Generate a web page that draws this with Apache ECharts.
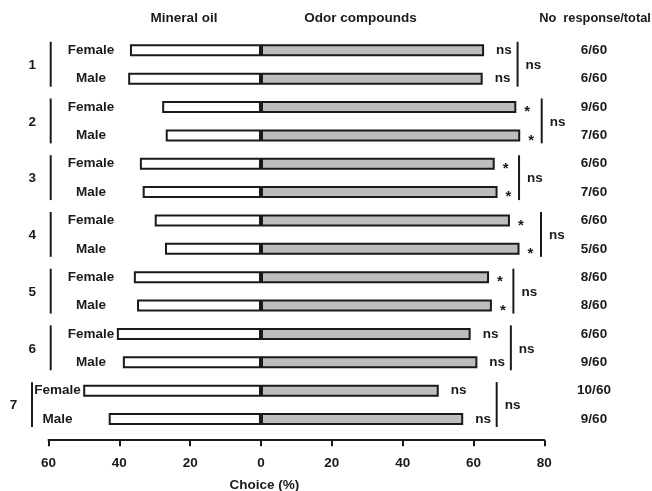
<!DOCTYPE html>
<html>
<head>
<meta charset="utf-8">
<script src="https://cdn.jsdelivr.net/npm/echarts@6/dist/echarts.min.js"></script>
<style>
  html, body { margin: 0; padding: 0; background: #ffffff; }
  #chart { width: 652px; height: 491px; }
</style>
</head>
<body>
<div id="chart"></div>
<script>
// Two-choice assay: share of insects choosing mineral oil vs. odor compounds
const groups = ['1', '2', '3', '4', '5', '6', '7'];
const sexes = ['Female', 'Male', 'Female', 'Male', 'Female', 'Male', 'Female', 'Male',
               'Female', 'Male', 'Female', 'Male', 'Female', 'Male'];
const mineralOil = [37.0, 37.5, 27.9, 26.9, 34.2, 33.4, 30.0, 27.1, 35.9, 35.0, 40.7, 39.0, 50.2, 43.0];
const odorCompounds = [63.0, 62.6, 72.1, 73.2, 66.0, 66.8, 70.3, 73.0, 64.4, 65.2, 59.2, 61.1, 50.2, 57.1];
const barSignificance = ['ns', 'ns', '*', '*', '*', '*', '*', '*', '*', '*', 'ns', 'ns', 'ns', 'ns'];
const groupSignificance = ['ns', 'ns', 'ns', 'ns', 'ns', 'ns', 'ns'];
const noResponse = ['6/60', '6/60', '9/60', '7/60', '6/60', '7/60', '6/60', '5/60',
                    '8/60', '8/60', '6/60', '9/60', '10/60', '9/60'];

const INK = '#1a1a1a';
const FONT = '"Liberation Sans", Arial, Helvetica, sans-serif';
const FS = 13.5;
const fontCss = 'bold ' + FS + 'px ' + FONT;

// a group whose mineral-oil bar runs long pushes its labels further left
const crowdedGroup = groups.map((g, i) => Math.max(mineralOil[2 * i], mineralOil[2 * i + 1]) > 45);

const chart = echarts.init(document.getElementById('chart'), null, { renderer: 'canvas' });

const odorData = odorCompounds.map((v, i) => ({
  value: v,
  label: barSignificance[i] === '*'
    ? { distance: 8, offset: [0, 5], fontSize: 15 }
    : { distance: 12 }
}));

const groupData = groups.map((g, i) => [0, 2 * i, 2 * i + 1]);

function renderGroup(params, api) {
  const i = params.dataIndex;
  const a = api.value(1), b = api.value(2);
  const yTop = api.coord([0, a])[1] - 8.5;
  const yBot = api.coord([0, b])[1] + 8;
  const yMid = (yTop + yBot) / 2;
  const gridLeft = api.coord([-60, a])[0];

  // left bracket and group number
  const lx = gridLeft + (crowdedGroup[i] ? -16.5 : 2.2);
  const nx = lx - 18.5;

  // right bracket sits just past the farther significance label
  const ends = [a, b].map(k => api.coord([odorCompounds[k], k])[0] + (barSignificance[k] === '*' ? 21.5 : 33.5));
  const rx = Math.max(ends[0], ends[1]);

  return {
    type: 'group',
    children: [
      { type: 'line', shape: { x1: lx, y1: yTop, x2: lx, y2: yBot }, style: { stroke: INK, lineWidth: 2 } },
      { type: 'text', x: nx, y: yMid + 1, style: { text: groups[i], font: fontCss, fill: INK, align: 'center', verticalAlign: 'middle' } },
      { type: 'line', shape: { x1: rx, y1: yTop, x2: rx, y2: yBot }, style: { stroke: INK, lineWidth: 2 } },
      { type: 'text', x: rx + 8, y: yMid + 1, style: { text: groupSignificance[i], font: fontCss, fill: INK, align: 'left', verticalAlign: 'middle' } }
    ]
  };
}

const option = {
  animation: false,
  textStyle: { fontFamily: FONT },
  grid: {
    left: 48.5, right: 107.7, top: 36.1, bottom: 57.8,
    containLabel: false,
    outerBoundsMode: 'none'
  },
  xAxis: {
    type: 'value',
    min: -60,
    max: 80,
    interval: 20,
    offset: 7,
    axisLine: { show: true, lineStyle: { color: INK, width: 2 } },
    axisTick: { show: true, inside: false, length: 6, lineStyle: { color: INK, width: 2 } },
    splitLine: { show: false },
    axisLabel: {
      formatter: v => String(Math.abs(v)),
      color: INK, fontWeight: 'bold', fontSize: FS, margin: 16
    },
    name: 'Choice (%)',
    nameLocation: 'middle',
    nameGap: 38,
    nameTextStyle: { color: INK, fontWeight: 'bold', fontSize: FS, padding: [0, 64, 0, 0] }
  },
  yAxis: [
    {
      type: 'category',
      inverse: true,
      data: sexes,
      axisLine: { show: false },
      axisTick: { show: false },
      splitLine: { show: false },
      axisLabel: {
        align: 'center',
        margin: -42.5,
        color: INK, fontWeight: 'bold', fontSize: FS,
        formatter: (v, idx) => crowdedGroup[Math.floor(idx / 2)] ? '{far|' + v + '}' : v,
        rich: { far: { padding: [0, 67, 0, 0], color: INK, fontWeight: 'bold', fontSize: FS } }
      }
    },
    {
      type: 'category',
      inverse: true,
      position: 'right',
      data: noResponse,
      axisLine: { show: false },
      axisTick: { show: false },
      splitLine: { show: false },
      axisLabel: { align: 'center', margin: 49.7, color: INK, fontWeight: 'bold', fontSize: FS }
    }
  ],
  graphic: [
    { type: 'text', x: 184, y: 18.5, style: { text: 'Mineral oil', font: fontCss, fill: INK, align: 'center', verticalAlign: 'middle' } },
    { type: 'text', x: 360.5, y: 18.5, style: { text: 'Odor compounds', font: fontCss, fill: INK, align: 'center', verticalAlign: 'middle' } },
    { type: 'text', x: 595, y: 18.5, style: { text: 'No  response/total', font: 'bold 12.8px ' + FONT, fill: INK, align: 'center', verticalAlign: 'middle' } }
  ],
  series: [
    {
      name: 'Mineral oil',
      type: 'bar',
      yAxisIndex: 0,
      barWidth: 12,
      barGap: '-100%',
      data: mineralOil.map(v => -v),
      itemStyle: { color: '#ffffff', borderColor: INK, borderWidth: 2 }
    },
    {
      name: 'Odor compounds',
      type: 'bar',
      yAxisIndex: 0,
      barWidth: 12,
      barGap: '-100%',
      data: odorData,
      itemStyle: { color: '#bdbdbd', borderColor: INK, borderWidth: 2 },
      label: {
        show: true,
        position: 'right',
        color: INK, fontWeight: 'bold', fontSize: FS,
        formatter: p => barSignificance[p.dataIndex]
      }
    },
    {
      name: 'Groups',
      type: 'custom',
      yAxisIndex: 0,
      clip: false,
      silent: true,
      encode: { x: 0, y: 1 },
      data: groupData,
      renderItem: renderGroup
    }
  ]
};

chart.setOption(option);
</script>
</body>
</html>
